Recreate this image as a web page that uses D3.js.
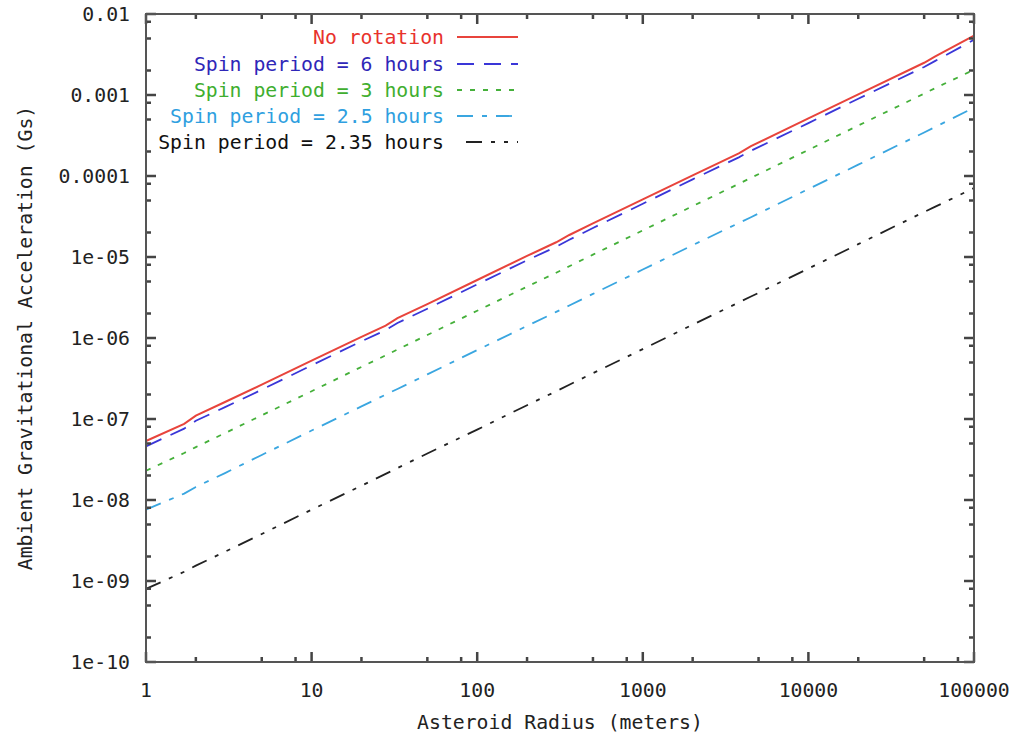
<!DOCTYPE html>
<html><head><meta charset="utf-8">
<script src="https://cdnjs.cloudflare.com/ajax/libs/d3/7.8.5/d3.min.js"></script>
<style>
html,body{margin:0;padding:0;background:#fff;}
svg{display:block;}
text{font-family:"DejaVu Sans Mono",monospace;}
</style></head>
<body>
<svg id="chart" width="1018" height="740"></svg>
<script>
// ---- data ----
const radius = [1, 1.7, 2, 3, 5, 10, 20, 28, 33, 50, 100, 200, 300, 360, 500, 1000, 2000, 3800, 4500, 10000, 20000, 50000, 58000, 100000];
const noRotation = [5.35e-8, 8.7e-8, 1.1e-7, 1.62e-7, 2.65e-7, 5.25e-7, 1.03e-6, 1.42e-6, 1.76e-6, 2.62e-6, 5.2e-6, 1.03e-5, 1.52e-5, 1.87e-5, 2.6e-5, 5.15e-5, 1.02e-4, 1.9e-4, 2.34e-4, 5.15e-4, 1.02e-3, 2.5e-3, 2.98e-3, 5.4e-3];
const spin6h = [4.6e-8, 7.6e-8, 9.5e-8, 1.4e-7, 2.3e-7, 4.6e-7, 9.1e-7, 1.25e-6, 1.53e-6, 2.3e-6, 4.6e-6, 9.1e-6, 1.34e-5, 1.63e-5, 2.28e-5, 4.55e-5, 9.1e-5, 1.7e-4, 2.05e-4, 4.5e-4, 9.0e-4, 2.22e-3, 2.62e-3, 4.8e-3];
const spin3h = [2.3e-8, 3.8e-8, 4.5e-8, 6.7e-8, 1.11e-7, 2.2e-7, 4.4e-7, 6.1e-7, 7.2e-7, 1.09e-6, 2.17e-6, 4.3e-6, 6.4e-6, 7.7e-6, 1.07e-5, 2.13e-5, 4.25e-5, 8.0e-5, 9.5e-5, 2.1e-4, 4.2e-4, 1.04e-3, 1.21e-3, 2.05e-3];
const spin25h = [7.6e-9, 1.2e-8, 1.45e-8, 2.15e-8, 3.6e-8, 7.2e-8, 1.43e-7, 2.0e-7, 2.35e-7, 3.55e-7, 7.1e-7, 1.41e-6, 2.1e-6, 2.52e-6, 3.5e-6, 7.0e-6, 1.4e-5, 2.63e-5, 3.1e-5, 6.9e-5, 1.38e-4, 3.45e-4, 4.0e-4, 7.0e-4];
const spin235h = [8.0e-10, 1.3e-9, 1.55e-9, 2.3e-9, 3.8e-9, 7.6e-9, 1.5e-8, 2.1e-8, 2.48e-8, 3.75e-8, 7.4e-8, 1.48e-7, 2.2e-7, 2.65e-7, 3.68e-7, 7.3e-7, 1.46e-6, 2.75e-6, 3.25e-6, 7.2e-6, 1.44e-5, 3.6e-5, 4.15e-5, 7.1e-5];
const seriesNames = ["No rotation", "Spin period = 6 hours", "Spin period = 3 hours", "Spin period = 2.5 hours", "Spin period = 2.35 hours"];
const xTickValues = [1, 10, 100, 1000, 10000, 100000];
const xTickLabels = ["1", "10", "100", "1000", "10000", "100000"];
const yTickValues = [1e-10, 1e-9, 1e-8, 1e-7, 1e-6, 1e-5, 1e-4, 1e-3, 1e-2];
const yTickLabels = ["1e-10", "1e-09", "1e-08", "1e-07", "1e-06", "1e-05", "0.0001", "0.001", "0.01"];
const minorMultipliers = [2, 5, 8];
const xTitle = "Asteroid Radius (meters)";
const yTitle = "Ambient Gravitational Acceleration (Gs)";

// ---- styles ----
const seriesData = [noRotation, spin6h, spin3h, spin25h, spin235h];
const lineColors = ["#e8443c", "#3a36d8", "#45b03a", "#3aa6e0", "#222222"];
const textColors = ["#e8322c", "#2f27b8", "#3fae2f", "#2f9fe0", "#111111"];
const dashes = [null, "17,10", "5,8", "16,9,5,9", "16,9,4,9,4,9"];

const svg = d3.select("#chart");
const L = 146, R = 974, T = 14, B = 662;
const x = d3.scaleLog().domain([1, 100000]).range([L, R]);
const y = d3.scaleLog().domain([1e-10, 1e-2]).range([B, T]);
const axisColor = "#555";
const fs = 19.8;

// lines
const line = d3.line().x(d => x(d[0])).y(d => y(d[1]));
seriesData.forEach((s, i) => {
  svg.append("path")
    .datum(radius.map((r, j) => [r, s[j]]))
    .attr("d", line)
    .attr("fill", "none")
    .attr("stroke", lineColors[i])
    .attr("stroke-width", i === 0 ? 2 : 1.8)
    .attr("stroke-dasharray", dashes[i]);
});

// minor tick values
const xMinor = [];
for (let e = 0; e < 5; e++) minorMultipliers.forEach(m => xMinor.push(m * Math.pow(10, e)));
const yMinor = [];
for (let e = -10; e < -2; e++) minorMultipliers.forEach(m => yMinor.push(m * Math.pow(10, e)));

// ticks inward on all four sides (gnuplot mirror style), drawn as short paths
const tickPaths = [];
xTickValues.forEach(v => { tickPaths.push(`M${x(v)},${B}V${B - 10}`, `M${x(v)},${T}V${T + 10}`); });
xMinor.forEach(v => { tickPaths.push(`M${x(v)},${B}V${B - 5}`, `M${x(v)},${T}V${T + 5}`); });
yTickValues.forEach(v => { tickPaths.push(`M${L},${y(v)}H${L + 10}`, `M${R},${y(v)}H${R - 10}`); });
yMinor.forEach(v => { tickPaths.push(`M${L},${y(v)}H${L + 5}`, `M${R},${y(v)}H${R - 5}`); });
svg.append("path").attr("d", tickPaths.join(""))
  .attr("fill", "none").attr("stroke", "#444").attr("stroke-width", 2.5);

// frame
svg.append("rect").attr("x", L).attr("y", T).attr("width", R - L).attr("height", B - T)
  .attr("fill", "none").attr("stroke", axisColor).attr("stroke-width", 2);

// tick labels
xTickValues.forEach((v, i) => {
  svg.append("text").attr("x", x(v)).attr("y", 697).attr("text-anchor", "middle")
    .attr("font-size", fs).attr("fill", "#222").text(xTickLabels[i]);
});
yTickValues.forEach((v, i) => {
  svg.append("text").attr("x", 130).attr("y", y(v)).attr("dy", "0.35em").attr("text-anchor", "end")
    .attr("font-size", fs).attr("fill", "#222").text(yTickLabels[i]);
});

// axis titles
svg.append("text").attr("x", (L + R) / 2).attr("y", 729).attr("text-anchor", "middle")
  .attr("font-size", fs).attr("fill", "#222").text(xTitle);
svg.append("text").attr("transform", `translate(32,${(T + B) / 2}) rotate(-90)`)
  .attr("text-anchor", "middle").attr("font-size", fs).attr("fill", "#222").text(yTitle);

// legend
const legY = [37, 64, 90, 116, 142];
seriesNames.forEach((n, i) => {
  svg.append("text").attr("x", 444).attr("y", legY[i]).attr("dy", "0.35em").attr("text-anchor", "end")
    .attr("font-size", fs).attr("fill", textColors[i]).text(n);
  svg.append("line").attr("x1", i === 4 ? 466 : 457).attr("x2", 518).attr("y1", legY[i]).attr("y2", legY[i])
    .attr("stroke", lineColors[i]).attr("stroke-width", 1.8).attr("stroke-dasharray", dashes[i]);
});
</script>
</body></html>
